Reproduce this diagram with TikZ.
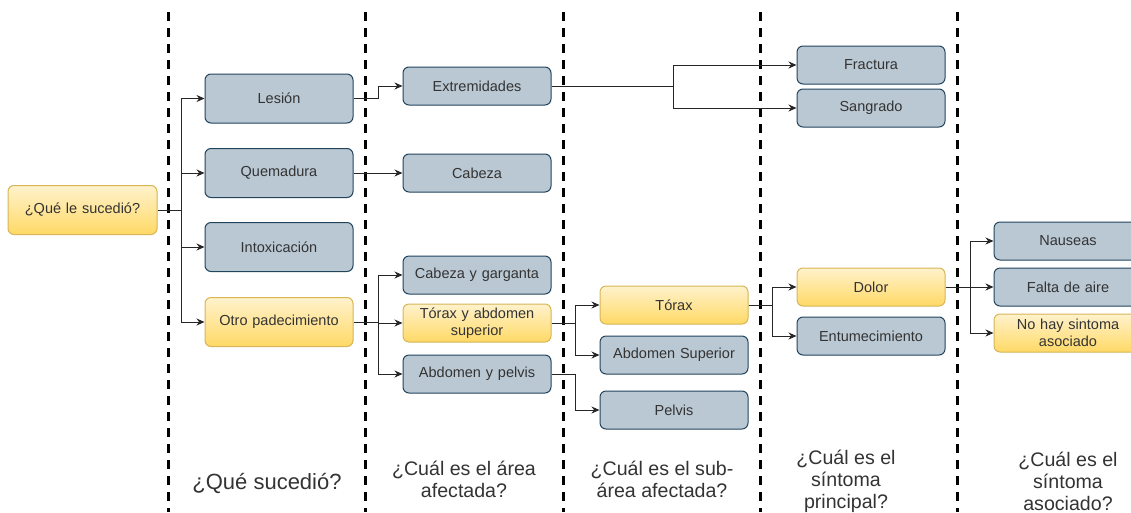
\documentclass[tikz,border=0pt]{standalone}
\usepackage{fontspec}
\setmainfont{Liberation Sans}
\usetikzlibrary{arrows.meta}

\definecolor{grayfill}{HTML}{BAC8D3}
\definecolor{graydraw}{HTML}{23445D}
\definecolor{yellowtop}{HTML}{FFF2CC}
\definecolor{yellowbot}{HTML}{FFD966}
\definecolor{yellowdraw}{HTML}{D6B656}
\definecolor{txt}{HTML}{333333}

\tikzset{
  box/.style={draw=graydraw, fill=grayfill, rounded corners=6pt, line width=1pt,
    minimum width=148pt, minimum height=38pt, text width=144pt, inner sep=0pt,
    align=center, text=txt, font=\fontsize{14.5}{17}\selectfont},
  ybox/.style={box, draw=yellowdraw, top color=yellowtop, bottom color=yellowbot},
  link/.style={-{Stealth[length=8pt,width=7pt]}, line width=1pt, draw=black!85},
  sep/.style={line width=3pt, dash pattern=on 9pt off 7pt},
  question/.style={align=center, text=txt, font=\fontsize{19.6}{22}\selectfont}
}

\begin{document}
\begin{tikzpicture}[x=1pt, y=-1pt]
    \useasboundingbox (0, 0) rectangle (1131, 512);
    % separators
    \foreach \x in {168, 365, 563, 760, 957}
      \draw [sep] (\x, 12) -- (\x, 512);
    % start
    \node [ybox, minimum width=149pt, minimum height=49pt] (que) at (82.5, 210) {¿Qué le sucedió?};
    % what happened
    \node [box, minimum height=49pt]  (lesion) at (279, 98.5) {Lesión};
    \node [box, minimum height=49pt]  (quem)   at (279, 173)  {Quemadura};
    \node [box, minimum height=49pt]  (intox)  at (279, 247)  {Intoxicación};
    \node [ybox, minimum height=49pt] (otro)   at (279, 322)  {Otro padecimiento};
    % area
    \node [box]  (extr)   at (477, 86)  {Extremidades};
    \node [box]  (cabeza) at (477, 173) {Cabeza};
    \node [box]  (cabgar) at (477, 275) {Cabeza y garganta};
    \node [ybox] (torabd) at (477, 323) {Tórax y abdomen\\superior};
    \node [box]  (abdpel) at (477, 374) {Abdomen y pelvis};
    % sub-area
    \node [ybox] (torax)  at (674, 305) {Tórax};
    \node [box]  (abdsup) at (674, 355) {Abdomen Superior};
    \node [box]  (pelvis) at (674, 410) {Pelvis};
    % main symptom
    \node [box]  (fract)  at (871, 65)  {Fractura};
    \node [box]  (sangr)  at (871, 108) {Sangrado};
    \node [ybox] (dolor)  at (871, 287) {Dolor};
    \node [box]  (entum)  at (871, 336) {Entumecimiento};
    % associated symptom
    \node [box]  (naus)   at (1068, 241) {Nauseas};
    \node [box]  (falta)  at (1068, 287) {Falta de aire};
    \node [ybox] (nohay)  at (1068, 333) {No hay sintoma\\asociado};
    % junctions
    \coordinate (j1) at (181, 210);
    \coordinate (j2) at (378, 98.5);
    \coordinate (j3) at (378, 322);
    \coordinate (j4) at (575, 323);
    \coordinate (j5) at (575, 374);
    \coordinate (j6) at (673, 86);
    \coordinate (j7) at (772, 305);
    \coordinate (j8) at (970, 287);
    % connectors
    \draw [link] (que.east) -- (j1) |- (lesion);
    \draw [link] (j1) |- (quem);
    \draw [link] (j1) |- (intox);
    \draw [link] (j1) |- (otro);
    \draw [link] (lesion.east) -- (j2) |- (extr);
    \draw [link] (quem) -- (cabeza);
    \draw [link] (otro.east) -- (j3) |- (cabgar);
    \draw [link] (j3) |- (torabd);
    \draw [link] (j3) |- (abdpel);
    \draw [link] (torabd.east) -- (j4) |- (torax);
    \draw [link] (j4) |- (abdsup);
    \draw [link] (abdpel.east) -- (j5) |- (pelvis);
    \draw [link] (extr.east) -- (j6) |- (fract);
    \draw [link] (j6) |- (sangr);
    \draw [link] (torax.east) -- (j7) |- (dolor);
    \draw [link] (j7) |- (entum);
    \draw [link] (dolor.east) -- (j8) |- (naus);
    \draw [link] (j8) |- (falta);
    \draw [link] (j8) |- (nohay);
    % questions
    \node [question, font=\fontsize{22}{24}\selectfont] (q1) at (267, 483) {¿Qué sucedió?};
    \node [question] (q2) at (464, 479)  {¿Cuál es el área\\afectada?};
    \node [question] (q3) at (662, 479)  {¿Cuál es el sub-\\área afectada?};
    \node [question] (q4) at (846, 481)  {¿Cuál es el\\síntoma\\principal?};
    \node [question] (q5) at (1068, 481) {¿Cuál es el\\síntoma\\asociado?};
\end{tikzpicture}
\end{document}
